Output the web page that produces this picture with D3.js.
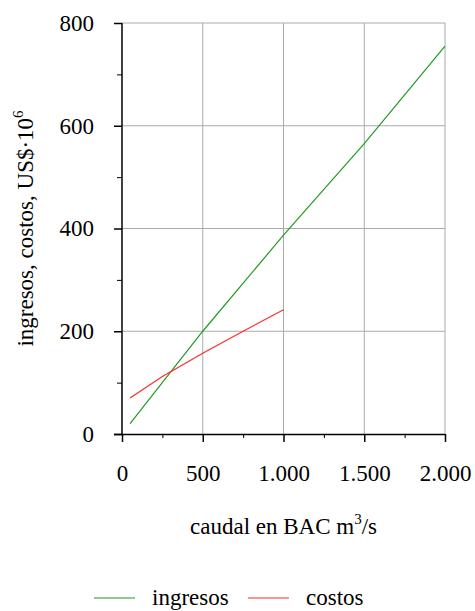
<!DOCTYPE html>
<html>
<head>
    <script src="https://d3js.org/d3.v7.min.js"></script>
    <title>ingresos y costos vs caudal</title>
    <style>
        body { margin: 0; background: #fff; }
    </style>
</head>
<body>
    <svg id="plot" width="475" height="611"></svg>
    <script>
        // data
        const seriesNames = ["ingresos", "costos"];
        const seriesColors = ["#229922", "#ff2a2a"];
        const ingresosX = [50, 500, 1000, 1500, 2000];
        const ingresosY = [20, 200, 387, 565, 755];
        const costosX = [50, 250, 500, 750, 1000];
        const costosY = [70, 112, 157, 200, 242];

        const xMajor = [0, 500, 1000, 1500, 2000];
        const xMinor = [250, 750, 1250, 1750];
        const yMajor = [0, 200, 400, 600, 800];
        const yMinor = [100, 300, 500, 700];

        const serif = '"Liberation Serif", "DejaVu Serif", serif';

        const svg = d3.select('svg#plot');
        const margin = {top: 23, right: 30, bottom: 177, left: 122};
        const width = +svg.attr('width');
        const height = +svg.attr('height');
        const chartWidth = width - margin.left - margin.right;
        const chartHeight = height - margin.top - margin.bottom;

        const chartArea = svg.append('g')
            .attr('transform', `translate(${margin.left},${margin.top})`);

        const x = d3.scaleLinear().domain([0, 2000]).range([0, chartWidth]);
        const y = d3.scaleLinear().domain([0, 800]).range([chartHeight, 0]);

        const es = d3.formatLocale({decimal: ",", thousands: ".", grouping: [3], currency: ["", ""]});
        const fmt = es.format(",d");

        // grid
        chartArea.append('g').selectAll('line')
            .data(xMajor.slice(1))
            .join('line')
            .attr('x1', d => x(d)).attr('x2', d => x(d))
            .attr('y1', 0).attr('y2', chartHeight)
            .style('stroke', '#aaa').style('stroke-width', 1);
        chartArea.append('g').selectAll('line')
            .data(yMajor.slice(1))
            .join('line')
            .attr('x1', 0).attr('x2', chartWidth)
            .attr('y1', d => y(d)).attr('y2', d => y(d))
            .style('stroke', '#aaa').style('stroke-width', 1);

        // axes
        const xAxis = chartArea.append('g')
            .attr('transform', `translate(0,${chartHeight})`)
            .call(d3.axisBottom(x).tickValues(xMajor).tickSize(8).tickPadding(23).tickFormat(fmt));
        chartArea.append('g')
            .attr('transform', `translate(0,${chartHeight})`)
            .call(d3.axisBottom(x).tickValues(xMinor).tickSize(4).tickFormat(''))
            .select('.domain').remove();
        const yAxis = chartArea.append('g')
            .call(d3.axisLeft(y).tickValues(yMajor).tickSize(8).tickPadding(20).tickFormat(d3.format('d')));
        chartArea.append('g')
            .call(d3.axisLeft(y).tickValues(yMinor).tickSize(5).tickFormat(''))
            .select('.domain').remove();

        [xAxis, yAxis].forEach(a => {
            a.attr('font-family', null).attr('font-size', null);
            a.select('.domain').attr('stroke-width', 1.5);
            a.selectAll('text').style('font-size', '23px').style('font-family', serif);
            a.selectAll('.tick line').attr('stroke-width', 1.5);
        });
        xAxis.select('.domain').attr('d', `M-8,0.5H${chartWidth}`);
        yAxis.select('.domain').attr('d', `M0,${chartHeight}V0`);

        // lines
        const line = d3.line().x(d => x(d[0])).y(d => y(d[1]));
        const series = [
            d3.zip(ingresosX, ingresosY),
            d3.zip(costosX, costosY)
        ];
        chartArea.selectAll('path.series')
            .data(series)
            .join('path')
            .attr('class', 'series')
            .attr('d', line)
            .style('fill', 'none')
            .style('stroke', (d, i) => seriesColors[i])
            .style('stroke-width', 1.2);

        // axis titles
        const xt = svg.append('text')
            .attr('x', margin.left + chartWidth / 2)
            .attr('y', 534)
            .attr('text-anchor', 'middle')
            .style('font-family', serif)
            .style('font-size', '23px');
        xt.append('tspan').text('caudal en BAC m');
        xt.append('tspan').text('3').style('font-size', '15px').attr('dy', -10);
        xt.append('tspan').text('/s').attr('dy', 10);

        const yt = svg.append('text')
            .attr('transform', `translate(33,${margin.top + chartHeight / 2}) rotate(-90)`)
            .attr('text-anchor', 'middle')
            .style('font-family', serif)
            .style('font-size', '23px');
        yt.append('tspan').text('ingresos, costos, US$·10');
        yt.append('tspan').text('6').style('font-size', '15px').attr('dy', -10);

        // legend
        const legendX = [94, 248];
        const legend = svg.append('g').selectAll('g')
            .data(seriesNames)
            .join('g')
            .attr('transform', (d, i) => `translate(${legendX[i]},598)`);
        legend.append('line')
            .attr('x1', 0).attr('x2', 41)
            .style('stroke', (d, i) => seriesColors[i])
            .style('stroke-width', 1.2);
        legend.append('text')
            .attr('x', 58).attr('y', 7)
            .style('font-family', serif)
            .style('font-size', '23px')
            .text(d => d);
    </script>
</body>
</html>
